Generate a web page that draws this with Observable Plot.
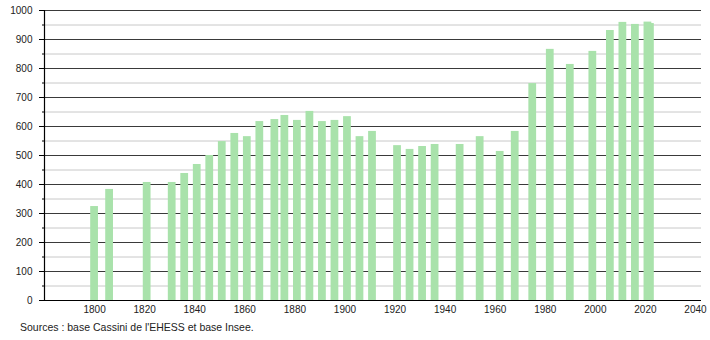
<!DOCTYPE html>
<html>
<head>
<meta charset="utf-8">
<script src="https://cdn.jsdelivr.net/npm/d3@7"></script>
<script src="https://cdn.jsdelivr.net/npm/@observablehq/plot@0.6"></script>
<style>
  body { margin: 0; background: #fff; font-family: "Liberation Sans", Arial, sans-serif; }
  #caption { font-size: 10.5px; color: #222; padding-left: 20px; height: 22px; line-height: 18px; }
</style>
</head>
<body>
<div id="chart"></div>
<div id="caption">Sources : base Cassini de l'EHESS et base Insee.</div>
<script>
const years = [1800, 1806, 1821, 1831, 1836, 1841, 1846, 1851, 1856, 1861, 1866, 1872, 1876, 1881, 1886, 1891, 1896, 1901, 1906, 1911, 1921, 1926, 1931, 1936, 1946, 1954, 1962, 1968, 1975, 1982, 1990, 1999, 2006, 2011, 2016, 2021, 2022];
const population = [324, 383, 407, 407, 438, 469, 500, 548, 576, 565, 617, 624, 638, 621, 652, 617, 621, 634, 565, 583, 534, 521, 531, 538, 538, 565, 514, 583, 748, 866, 814, 859, 931, 959, 952, 960, 955];
const yMajorTicks = [0, 100, 200, 300, 400, 500, 600, 700, 800, 900, 1000];
const yMinorTicks = [50, 150, 250, 350, 450, 550, 650, 750, 850, 950];
const xTicks = [1800, 1820, 1840, 1860, 1880, 1900, 1920, 1940, 1960, 1980, 2000, 2020, 2040];

const data = years.map((y, i) => ({year: y, pop: population[i]}));
const halfWidth = 1.55;

const chart = Plot.plot({
  width: 710,
  height: 318,
  marginLeft: 44,
  marginRight: 9,
  marginTop: 10,
  marginBottom: 18,
  style: {fontFamily: "Liberation Sans, Arial, sans-serif", fontSize: "10px", color: "#222", background: "#fff"},
  x: {type: "linear", domain: [1780, 2042.4], axis: null},
  y: {type: "linear", domain: [0, 1000], axis: null},
  marks: [
    Plot.ruleY(yMinorTicks, {stroke: "#c8c8c8", strokeWidth: 1}),
    Plot.ruleY(yMajorTicks.filter(d => d > 0), {stroke: "#3a3a3a", strokeWidth: 1}),
    Plot.rectY(data, {x1: d => d.year - halfWidth, x2: d => d.year + halfWidth, y1: 0, y2: "pop", fill: "#a9e2ab"}),
    Plot.ruleY([0], {stroke: "#000", strokeWidth: 1.2}),
    Plot.ruleX([1780], {stroke: "#000", strokeWidth: 1.2}),
    Plot.axisY({ticks: yMajorTicks, tickSize: 5, tickPadding: 7, tickFormat: d => String(d), anchor: "left", stroke: "#000", label: null}),
    Plot.axisY({ticks: yMinorTicks, tickSize: 2, tickFormat: () => "", anchor: "left", stroke: "#000", label: null}),
    Plot.axisX({ticks: xTicks, tickSize: 0, tickPadding: 5, tickFormat: d => String(d), anchor: "bottom", label: null})
  ]
});
document.getElementById("chart").appendChild(chart);
</script>
</body>
</html>
